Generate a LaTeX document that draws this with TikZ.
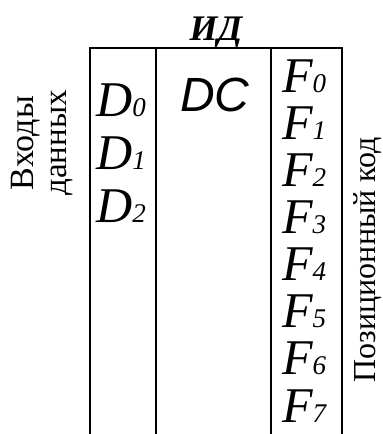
\documentclass[tikz,border=0pt]{standalone}
\usepackage{fontspec}
\setmainfont{Liberation Serif}
\newfontfamily\dcfont{Liberation Sans}
\usetikzlibrary{positioning}

% letter with a small italic index
\newcommand{\pin}[2]{{\itshape #1{\fontsize{27}{27}\selectfont #2}}}

\begin{document}
\begin{tikzpicture}[x=1pt, y=1pt, node distance={47pt}, inner sep=0pt,
  outer/.style = {line width=2pt},
  inner/.style = {line width=2.8pt},
  pinlabel/.style = {anchor=base west, text depth=0pt, font=\fontsize{50}{50}\selectfont},
  sidelabel/.style = {rotate=90, anchor=base, font=\fontsize{33}{33}\selectfont}]
\useasboundingbox (0,0) rectangle (383,434);

% body of the decoder
\coordinate (tl) at (90,386);
\coordinate (tr) at (342,386);
\coordinate (bl) at (90,0);
\coordinate (br) at (342,0);
\coordinate (m1t) at (156,386);
\coordinate (m1b) at (156,0);
\coordinate (m2t) at (271,386);
\coordinate (m2b) at (271,0);
\draw[outer] (bl) -- (tl) -- (tr) -- (br);
\draw[inner] (m1t) -- (m1b);
\draw[inner] (m2t) -- (m2b);

\node[font=\fontsize{36}{36}\selectfont\bfseries\itshape, anchor=base] (title) at (216,393) {ИД};
\node[font=\fontsize{48}{48}\selectfont\dcfont\itshape, anchor=base west] (dc) at (180,322) {DC};

% data inputs
\node[pinlabel] (D0) at (96,317) {\pin{D}{0}};
\node[pinlabel] (D1) [below of=D0, node distance={53pt}] {\pin{D}{1}};
\node[pinlabel] (D2) [below of=D1, node distance={53pt}] {\pin{D}{2}};

% outputs
\node[pinlabel] (F0) at (282,341) {\pin{F}{0}};
\node[pinlabel] (F1) [below of=F0] {\pin{F}{1}};
\node[pinlabel] (F2) [below of=F1] {\pin{F}{2}};
\node[pinlabel] (F3) [below of=F2] {\pin{F}{3}};
\node[pinlabel] (F4) [below of=F3] {\pin{F}{4}};
\node[pinlabel] (F5) [below of=F4] {\pin{F}{5}};
\node[pinlabel] (F6) [below of=F5] {\pin{F}{6}};
\node[pinlabel] (F7) [below of=F6] {\pin{F}{7}};

% side captions
\node[sidelabel, font=\fontsize{34}{34}\selectfont] (inputs) at (33,291) {Входы};
\node[sidelabel] (data) at (66,291) {данных};
\node[sidelabel, font=\fontsize{32}{32}\selectfont] (code) at (375,174.5) {Позиционный код};
\end{tikzpicture}
\end{document}
